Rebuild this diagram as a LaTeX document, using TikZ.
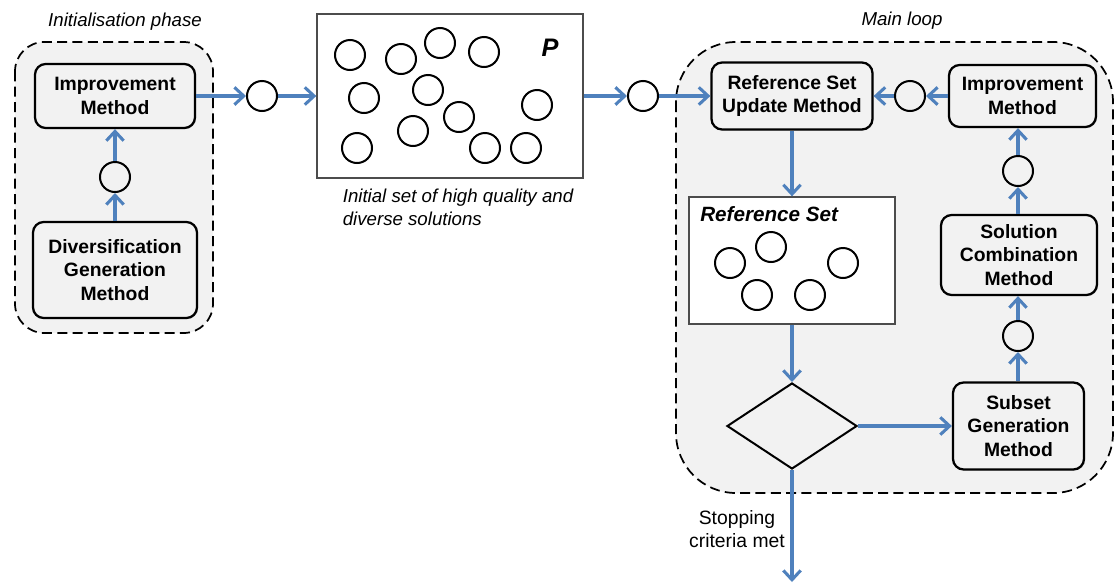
\documentclass[tikz,border=0pt]{standalone}
\usepackage{fontspec}
\setmainfont{Liberation Sans}
\usetikzlibrary{arrows.meta,shapes.geometric,shadows}
\definecolor{flow}{RGB}{79,129,189}
\definecolor{groupfill}{RGB}{242,242,242}
\tikzset{
	method/.style={draw, line width=1.7pt, rounded corners=8pt, fill=groupfill, align=center, inner sep=0pt, font=\bfseries\fontsize{14.5}{17.5}\selectfont, drop shadow={shadow xshift=0.8pt, shadow yshift=-0.8pt, opacity=0.25}},
	sol/.style={circle, draw, line width=1.5pt, fill=white, minimum size=22.5pt, inner sep=0pt, drop shadow={shadow xshift=0.6pt, shadow yshift=-0.6pt, opacity=0.2}},
	pool/.style={draw=black!70, line width=1pt, fill=white, inner sep=0pt, drop shadow={shadow xshift=0.8pt, shadow yshift=-0.8pt, opacity=0.2}},
	group/.style={draw, dash pattern=on 7.5pt off 4pt, line width=1.3pt, fill=groupfill},
	note/.style={font=\itshape\fontsize{14}{17.5}\selectfont, align=left, inner sep=0pt},
	flowarrow/.style={draw=flow, line width=2.3pt, -{Straight Barb[length=7pt,width=13pt]}}
}
\begin{document}
\begin{tikzpicture}[x=0.75pt, y=-0.75pt]
		\useasboundingbox (0,0) rectangle (1115,586);

		% groups
		\draw[group, rounded corners=22pt] (15,42) rectangle (213,333);
		\draw[group, rounded corners=45pt] (676,42) rectangle (1113,493);
		\node[note] (ip) at (125,22) {Initialisation phase};
		\node[note] (ml) at (902,21) {Main loop};

		% initialisation phase
		\node[method, minimum width=120pt, minimum height=48pt] (A) at (115,96) {Improvement\\Method};
		\node[sol, fill=groupfill] (a) at (115,177) {};
		\node[method, minimum width=123pt, minimum height=72pt] (B) at (115,270) {Diversification\\Generation\\Method};
		\node[sol] (b) at (262,96) {};

		% initial population
		\node[pool, minimum width=199.5pt, minimum height=123pt] (P) at (450,96) {};
		\node[font=\bfseries\itshape\fontsize{19}{22}\selectfont] (p) at (550,48) {P};
		\node[sol] (p1) at (350,55) {};
		\node[sol] (p2) at (401,59) {};
		\node[sol] (p3) at (440,43) {};
		\node[sol] (p4) at (484,52) {};
		\node[sol] (p5) at (364,98) {};
		\node[sol] (p6) at (428,90) {};
		\node[sol] (p7) at (459,117) {};
		\node[sol] (p8) at (537,105) {};
		\node[sol] (p9) at (357,148) {};
		\node[sol] (p10) at (413,131) {};
		\node[sol] (p11) at (485,148) {};
		\node[sol] (p12) at (526,148) {};
		\node[note] (cap) at (458,207) {Initial set of high quality and\\diverse solutions};
		\node[sol] (c) at (643,96) {};

		% main loop
		\node[method, minimum width=120.75pt, minimum height=50.25pt] (C) at (792,96) {Reference Set\\Update Method};
		\node[sol, fill=groupfill] (d) at (910,96) {};
		\node[method, minimum width=110.25pt, minimum height=46.5pt] (D) at (1022.5,96) {Improvement\\Method};
		\node[sol, fill=groupfill] (e) at (1018,171) {};
		\node[method, minimum width=117pt, minimum height=60pt] (E) at (1019,255) {Solution\\Combination\\Method};
		\node[sol, fill=groupfill] (f) at (1018,336) {};
		\node[method, minimum width=98.25pt, minimum height=65.25pt] (F) at (1018.5,426) {Subset\\Generation\\Method};

		\node[pool, minimum width=154.5pt, minimum height=95.25pt] (R) at (792,260.5) {};
		\node[font=\bfseries\itshape\fontsize{15.5}{18}\selectfont, anchor=west, inner sep=0pt] (r) at (700,214) {Reference Set};
		\node[sol] (r1) at (730,263) {};
		\node[sol] (r2) at (771,247) {};
		\node[sol] (r3) at (843,263) {};
		\node[sol] (r4) at (757,295) {};
		\node[sol] (r5) at (810,295) {};

		\node[diamond, draw, line width=1.5pt, fill=groupfill, inner sep=0pt, minimum width=97.5pt, minimum height=64.5pt] (G) at (792,426) {};
		\coordinate (out) at (792,582);
		\node[font=\fontsize{14.5}{17.5}\selectfont, align=center, inner sep=0pt] (stop) at (737,529) {Stopping\\criteria met};

		\draw[flowarrow] (B) -- (a);
		\draw[flowarrow] (a) -- (A);
		\draw[flowarrow] (A) -- (b);
		\draw[flowarrow] (b) -- (P);
		\draw[flowarrow] (P) -- (c);
		\draw[flowarrow] (c) -- (C);
		\draw[flowarrow] (C) -- (R);
		\draw[flowarrow] (R) -- (G);
		\draw[flowarrow] (G) -- (F);
		\draw[flowarrow] (G) -- (out);
		\draw[flowarrow] (F.north -| f) -- (f);
		\draw[flowarrow] (f) -- (E.south -| f);
		\draw[flowarrow] (E.north -| e) -- (e);
		\draw[flowarrow] (e) -- (D.south -| e);
		\draw[flowarrow] (D) -- (d);
		\draw[flowarrow] (d) -- (C);
	\end{tikzpicture}
\end{document}
